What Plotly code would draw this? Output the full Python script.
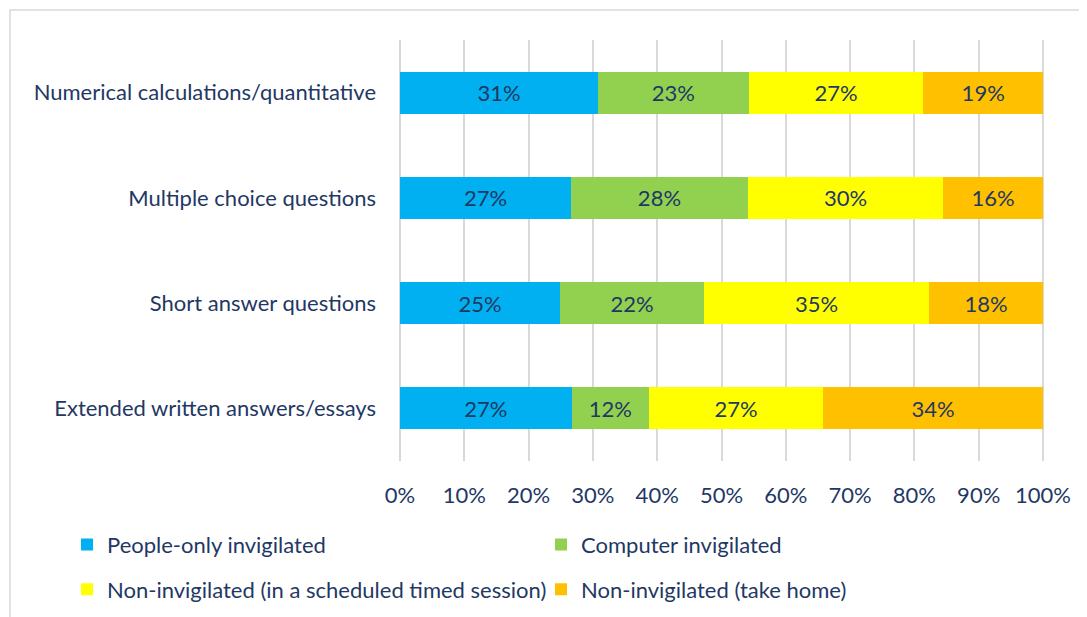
import plotly.graph_objects as go

categories = [
    "Numerical calculations/quantitative",
    "Multiple choice questions",
    "Short answer questions",
    "Extended written answers/essays",
]
series_names = [
    "People-only invigilated",
    "Computer invigilated",
    "Non-invigilated (in a scheduled timed session)",
    "Non-invigilated (take home)",
]
people_only = [30.8, 26.6, 24.9, 26.7]
computer = [23.4, 27.5, 22.4, 12.0]
non_inv_timed = [27.2, 30.4, 35.0, 27.1]
non_inv_home = [18.6, 15.5, 17.7, 34.2]
colors = ["#00B0F0", "#92D050", "#FFFF00", "#FFC000"]
tick_vals = [0, 10, 20, 30, 40, 50, 60, 70, 80, 90, 100]
tick_text = ["0%", "10%", "20%", "30%", "40%", "50%", "60%", "70%", "80%", "90%", "100%"]

TXT = "#1F3864"
FONT = "Lato, 'Open Sans', sans-serif"
FS = 22

# The page body has an 8px margin, so the figure is drawn 8px right/down.
OFF = 8
PAD = 2  # px of padding on each side so edge gridlines are drawn
L, R, T, B = 400 - OFF - PAD, 44 + OFF - PAD, 40 - OFF, 156 + OFF
PW, PH = 643 + 2 * PAD, 421  # plot area in px
dx = 100 * PAD / 643

fig = go.Figure()
all_vals = [people_only, computer, non_inv_timed, non_inv_home]
legends = ["legend", "legend", "legend2", "legend2"]
for name, vals, col, lg in zip(series_names, all_vals, colors, legends):
    fig.add_trace(go.Bar(
        y=categories, x=vals, name=name, orientation="h",
        marker=dict(color=col, line=dict(width=0)),
        texttemplate="%{x:.0f}%", textposition="inside",
        insidetextanchor="middle",
        textfont=dict(color=TXT, size=FS, family=FONT),
        legend=lg,
    ))

x0px = 400 - PAD  # left of plot area in page px
fig.update_layout(
    barmode="stack",
    bargap=0.6,
    width=1087, height=617,
    margin=dict(l=L, r=R, t=T, b=B, autoexpand=False),
    paper_bgcolor="white", plot_bgcolor="white",
    font=dict(family=FONT, color=TXT, size=FS),
    uniformtext=dict(minsize=10, mode="show"),
    xaxis=dict(
        range=[-dx, 100 + dx], tickmode="array", tickvals=tick_vals, ticktext=tick_text,
        showgrid=True, gridcolor="#D9D9D9", gridwidth=1.5,
        zeroline=False, showline=False, ticks="",
        ticklabelstandoff=19, tickfont=dict(size=FS, color=TXT),
        fixedrange=True, automargin=False,
    ),
    yaxis=dict(
        autorange="reversed", showgrid=False, zeroline=False,
        showline=False, ticks="", ticklabelstandoff=21,
        tickfont=dict(size=FS, color=TXT), automargin=False,
    ),
    legend=dict(
        orientation="h", x=(67 - x0px) / PW, xanchor="left", y=-0.199, yanchor="middle",
        entrywidth=429, entrywidthmode="pixels",
        font=dict(size=FS, color=TXT), traceorder="normal",
        bgcolor="rgba(0,0,0,0)",
    ),
    legend2=dict(
        orientation="h", x=(67 - x0px) / PW, xanchor="left", y=-0.305, yanchor="middle",
        entrywidth=429, entrywidthmode="pixels",
        font=dict(size=FS, color=TXT), traceorder="normal",
        bgcolor="rgba(0,0,0,0)",
    ),
    shapes=[dict(
        type="rect", xref="paper", yref="paper",
        x0=(10 - x0px) / PW, x1=(1100 - x0px) / PW,
        y0=(461 - 630) / PH, y1=(461 - 10) / PH,
        line=dict(color="#D9D9D9", width=1.5), fillcolor="rgba(0,0,0,0)",
        layer="below",
    )],
)

fig.write_html("out.html")
